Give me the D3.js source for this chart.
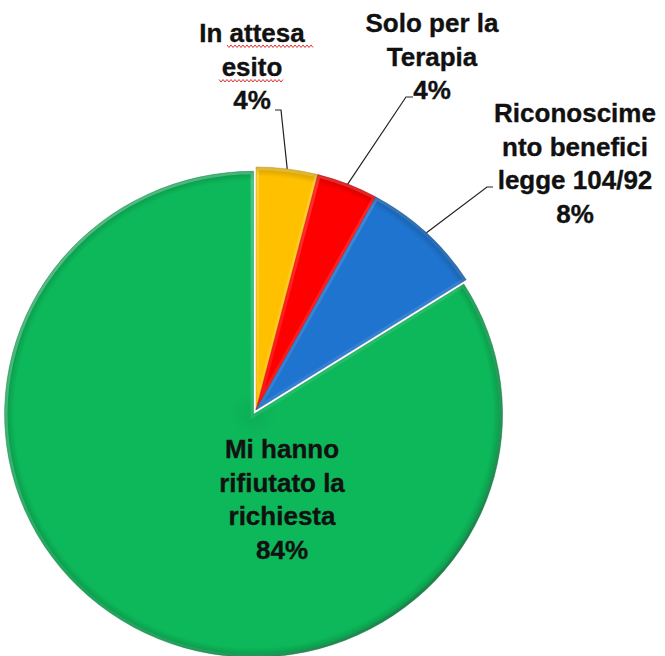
<!DOCTYPE html>
<html>
<head>
<meta charset="utf-8">
<script src="https://cdn.jsdelivr.net/npm/d3@7"></script>
<style>
  html, body { margin: 0; padding: 0; background: #fff; }
  #container { width: 665px; height: 656px; }
</style>
</head>
<body>
<div id="container"></div>
<script>
// --- data ---
const categories = ["In attesa esito", "Solo per la Terapia", "Riconoscimento benefici legge 104/92", "Mi hanno rifiutato la richiesta"];
const values = [4, 4, 8, 84];
const sliceColors = ["#FFC000", "#FF0000", "#1F74CF", "#0DB85A"];
const labelLines = [
    ["In attesa", "esito"],
    ["Solo per la", "Terapia"],
    ["Riconoscime", "nto benefici", "legge 104/92"],
    ["Mi hanno", "rifiutato la", "richiesta"]
];

// --- layout ---
var svgWidth = 665, svgHeight = 656;
var cx = 256, cy = 410, radius = 249, squash = 0.976;
var lineHeight = 33.5;
var labelAnchor = [
    { x: 252, y: 42 },
    { x: 432, y: 32 },
    { x: 575, y: 122 },
    { x: 282, y: 458 }
];
// leader: elbow point and the short horizontal end next to the label
var leaderElbow = [
    { x: 281, y: 110, end: 275 },
    { x: 406, y: 97, end: 413 },
    { x: 487, y: 187, end: 493 }
];

var svg = d3.select("div#container")
    .append("svg")
    .attr("width", svgWidth)
    .attr("height", svgHeight);

var defs = svg.append("defs");

var data = categories.map((c, i) => ({ cat: c, value: values[i], color: sliceColors[i], lines: labelLines[i], i: i }));

var pie = d3.pie().sort(null).value(d => d.value);
var arcs = pie(data);
var arc = d3.arc().innerRadius(0).outerRadius(radius);

// gradients for a beveled look
arcs.forEach(function (a) {
    var g = defs.append("radialGradient")
        .attr("id", "grad" + a.index)
        .attr("gradientUnits", "userSpaceOnUse")
        .attr("cx", 0).attr("cy", 0).attr("r", radius);
    var c = d3.color(a.data.color);
    g.append("stop").attr("offset", "0%").attr("stop-color", c.darker(0.15));
    g.append("stop").attr("offset", "10%").attr("stop-color", c);
    g.append("stop").attr("offset", "96%").attr("stop-color", c);
    g.append("stop").attr("offset", "100%").attr("stop-color", c.darker(0.6));
});
var hl = defs.append("linearGradient")
    .attr("id", "edgeLight")
    .attr("gradientUnits", "userSpaceOnUse")
    .attr("x1", -radius).attr("y1", -radius)
    .attr("x2", radius).attr("y2", radius);
hl.append("stop").attr("offset", "0%").attr("stop-color", "#ffffff").attr("stop-opacity", 0.4);
hl.append("stop").attr("offset", "50%").attr("stop-color", "#ffffff").attr("stop-opacity", 0.08);
hl.append("stop").attr("offset", "100%").attr("stop-color", "#000000").attr("stop-opacity", 0.4);

var pieG = svg.append("g")
    .attr("transform", "translate(" + cx + "," + cy + ") scale(1," + squash + ")");

function offsetOf(a) {
    // green slice is pulled out a bit
    if (a.index !== 3) return [0, 0];
    var mid = (a.startAngle + a.endAngle) / 2;
    return [Math.sin(mid) * 5, -Math.cos(mid) * 5];
}

var slices = pieG.selectAll("g.slice")
    .data(arcs)
    .enter()
    .append("g")
    .attr("class", "slice")
    .attr("transform", function (d) { var o = offsetOf(d); return "translate(" + o[0] + "," + o[1] + ")"; });

slices.each(function (d) {
    defs.append("clipPath").attr("id", "clip" + d.index)
        .append("path").attr("d", arc(d));
});

slices.append("path")
    .attr("d", arc)
    .attr("fill", d => "url(#grad" + d.index + ")");

// bevel edge inside each slice
slices.append("path")
    .attr("d", arc)
    .attr("fill", "none")
    .attr("stroke", "url(#edgeLight)")
    .attr("stroke-width", 6)
    .attr("clip-path", d => "url(#clip" + d.index + ")");

slices.append("path")
    .attr("d", arc)
    .attr("fill", "none")
    .attr("stroke", d => d3.color(d.data.color).darker(0.9))
    .attr("stroke-opacity", 0.5)
    .attr("stroke-width", 0.8);

// --- leader lines ---
function piePoint(a, r) {
    var mid = (a.startAngle + a.endAngle) / 2;
    var o = offsetOf(a);
    return [cx + o[0] + Math.sin(mid) * r, cy + (o[1] - Math.cos(mid) * r) * squash];
}

arcs.slice(0, 3).forEach(function (a, i) {
    var p = piePoint(a, radius);
    var e = leaderElbow[i];
    svg.append("path")
        .attr("d", d3.line()([p, [e.x, e.y], [e.end, e.y]]))
        .attr("fill", "none")
        .attr("stroke", "#222")
        .attr("stroke-width", 1.2);
});

// --- labels ---
var fontFamily = "'Liberation Sans', Arial, sans-serif";
arcs.forEach(function (a, i) {
    var pos = labelAnchor[i];
    var lines = a.data.lines.concat([a.data.value + "%"]);
    var t = svg.append("text")
        .attr("text-anchor", "middle")
        .attr("font-family", fontFamily)
        .attr("font-weight", "bold")
        .attr("font-size", "26px")
        .attr("fill", "#111")
        .attr("stroke", "#111")
        .attr("stroke-width", 0.35);
    lines.forEach(function (l, k) {
        t.append("tspan")
            .attr("x", pos.x)
            .attr("y", pos.y + k * lineHeight)
            .text(l);
    });
});

// spell-check squiggle under "attesa" and "esito"
function squiggle(x0, x1, y) {
    var pts = [];
    for (var x = x0, k = 0; x <= x1; x += 2, k++) pts.push([x, y + (k % 2 ? 1.5 : -1)]);
    svg.append("path")
        .attr("d", d3.line()(pts))
        .attr("fill", "none")
        .attr("stroke", "#e03030")
        .attr("stroke-width", 1);
}
squiggle(227, 314, labelAnchor[0].y + 4);
squiggle(219, 283, labelAnchor[0].y + lineHeight + 5);
</script>
</body>
</html>
